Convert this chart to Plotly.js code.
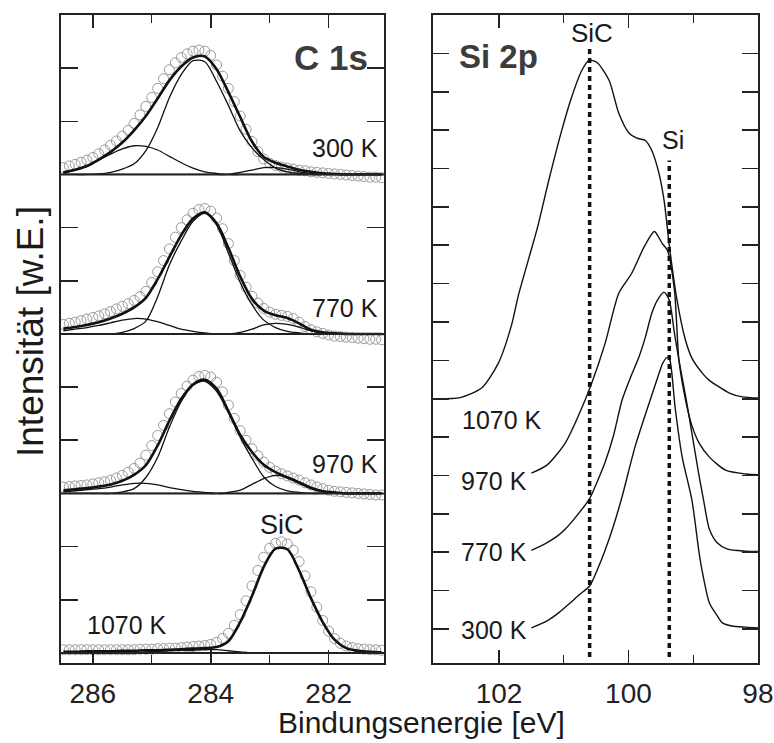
<!DOCTYPE html>
<html>
<head>
<meta charset="utf-8">
<script src="https://cdn.plot.ly/plotly-3.0.1.min.js"></script>
<style>html,body{margin:0;padding:0;background:#fff;}#chart{width:774px;height:743px;}</style>
</head>
<body>
<div id="chart"></div>
<script>
// ---------- C 1s (left panel) ----------
const c1sTemps = ["300 K", "770 K", "970 K", "1070 K"];
const c1sE = [286.5,286.4,286.3,286.2,286.1,286.0,285.9,285.8,285.7,285.6,285.5,285.4,285.3,285.2,285.1,285.0,284.9,284.8,284.7,284.6,284.5,284.4,284.3,284.2,284.1,284.0,283.9,283.8,283.7,283.6,283.5,283.4,283.3,283.2,283.1,283.0,282.9,282.8,282.7,282.6,282.5,282.4,282.3,282.2,282.1,282.0,281.9,281.8,281.7,281.6,281.5,281.4,281.3,281.2,281.1];
const c1sData300 = [0.13,0.16,0.19,0.23,0.27,0.32,0.39,0.46,0.55,0.63,0.72,0.83,0.96,1.12,1.28,1.45,1.62,1.80,1.97,2.10,2.20,2.27,2.32,2.34,2.32,2.24,2.06,1.85,1.62,1.37,1.10,0.85,0.62,0.43,0.29,0.21,0.17,0.14,0.12,0.10,0.08,0.07,0.05,0.04,0.03,0.02,0.01,0.0,-0.01,-0.02,-0.03,-0.04,-0.05,-0.05,-0.06];
const c1sData770 = [0.18,0.20,0.22,0.25,0.28,0.31,0.34,0.38,0.42,0.47,0.52,0.57,0.63,0.70,0.80,0.97,1.17,1.38,1.60,1.82,2.00,2.15,2.27,2.34,2.36,2.31,2.18,1.98,1.70,1.38,1.10,0.88,0.71,0.58,0.48,0.41,0.37,0.35,0.33,0.29,0.22,0.14,0.08,0.04,0.01,-0.02,-0.04,-0.05,-0.06,-0.07,-0.08,-0.09,-0.10,-0.10,-0.11];
const c1sData970 = [0.12,0.13,0.14,0.15,0.16,0.18,0.20,0.22,0.25,0.29,0.34,0.40,0.47,0.57,0.72,0.90,1.09,1.28,1.50,1.72,1.88,2.02,2.13,2.20,2.22,2.19,2.09,1.91,1.66,1.41,1.18,1.00,0.84,0.71,0.59,0.49,0.42,0.37,0.33,0.29,0.25,0.20,0.16,0.12,0.09,0.06,0.04,0.03,0.02,0.01,0.0,-0.01,-0.02,-0.03,-0.03];
const c1sData1070 = [0.06,0.06,0.06,0.06,0.06,0.06,0.06,0.06,0.06,0.06,0.06,0.06,0.06,0.07,0.07,0.07,0.08,0.08,0.09,0.09,0.10,0.11,0.12,0.13,0.14,0.16,0.20,0.27,0.37,0.52,0.72,0.98,1.26,1.55,1.80,1.97,2.06,2.09,2.05,1.93,1.72,1.45,1.15,0.86,0.61,0.41,0.27,0.18,0.13,0.10,0.08,0.07,0.06,0.06,0.05];

const fitE = [286.5,286.3,286.1,285.9,285.7,285.5,285.3,285.1,284.9,284.7,284.5,284.3,284.1,283.9,283.7,283.5,283.3,283.1,282.9,282.7,282.5,282.3,282.1,281.9,281.7,281.5,281.3,281.1];
const fit300 = [0.04,0.09,0.16,0.28,0.42,0.60,0.83,1.10,1.43,1.77,2.03,2.20,2.22,1.98,1.55,1.08,0.62,0.33,0.22,0.15,0.09,0.05,0.02,0.01,0,0,0,0];
const fit770 = [0.10,0.13,0.17,0.22,0.29,0.38,0.50,0.68,1.03,1.45,1.86,2.17,2.29,2.08,1.62,1.08,0.66,0.44,0.35,0.30,0.20,0.08,0.03,0.01,0,0,0,0];
const fit970 = [0.06,0.08,0.10,0.13,0.17,0.24,0.35,0.53,0.90,1.37,1.78,2.05,2.14,1.97,1.55,1.10,0.78,0.54,0.40,0.30,0.20,0.10,0.04,0.02,0,0,0,0];
const fit1070 = [0.02,0.02,0.03,0.03,0.03,0.04,0.04,0.05,0.05,0.06,0.07,0.08,0.09,0.11,0.22,0.58,1.07,1.62,1.96,1.95,1.55,1.03,0.58,0.25,0.09,0.04,0.02,0.01];

const main300 = [0,0,0,0.01,0.04,0.10,0.20,0.45,0.88,1.45,1.88,2.14,2.12,1.75,1.30,0.82,0.50,0.28,0.12,0.05,0.02,0,0,0,0,0,0,0];
const left300 = [0.02,0.08,0.15,0.27,0.38,0.48,0.54,0.53,0.46,0.34,0.22,0.12,0.05,0.02,0,0,0,0,0,0,0,0,0,0,0,0,0,0];
const right300 = [0,0,0,0,0,0,0,0,0,0,0,0,0,0,0,0.04,0.08,0.13,0.13,0.10,0.05,0.02,0,0,0,0,0,0];
const main770 = [0,0,0,0,0,0.03,0.10,0.24,0.70,1.30,1.75,2.12,2.27,2.05,1.52,0.97,0.55,0.26,0.12,0.05,0.02,0,0,0,0,0,0,0];
const left770 = [0.06,0.09,0.12,0.16,0.21,0.26,0.29,0.28,0.23,0.16,0.09,0.05,0.02,0,0,0,0,0,0,0,0,0,0,0,0,0,0,0];
const right770 = [0,0,0,0,0,0,0,0,0,0,0,0,0,0,0,0.03,0.09,0.17,0.20,0.18,0.13,0.06,0.02,0,0,0,0,0];
const main970 = [0,0,0,0,0,0.03,0.09,0.30,0.68,1.25,1.73,2.04,2.11,1.92,1.52,1.06,0.66,0.31,0.13,0.05,0.02,0,0,0,0,0,0,0];
const left970 = [0.03,0.05,0.07,0.09,0.12,0.16,0.19,0.19,0.16,0.11,0.07,0.04,0.02,0,0,0,0,0,0,0,0,0,0,0,0,0,0,0];
const right970 = [0,0,0,0,0,0,0,0,0,0,0,0,0,0,0.02,0.06,0.17,0.28,0.34,0.31,0.22,0.12,0.05,0.01,0,0,0,0];
const small1070 = [0,0,0,0,0,0,0,0.02,0.03,0.04,0.05,0.05,0.06,0.06,0.04,0.02,0,0,0,0,0,0,0,0,0,0,0,0];

const c1sOffsets = [9, 6, 3, 0];
const c1sDataSets = [c1sData300, c1sData770, c1sData970, c1sData1070];
const c1sFits = [fit300, fit770, fit970, fit1070];
const c1sComponents = [[main300, left300, right300], [main770, left770, right770], [main970, left970, right970], [small1070]];

// ---------- Si 2p (right panel) ----------
const siTemps = ["300 K", "770 K", "970 K", "1070 K"];
const si300E = [101.50,101.25,101.08,100.92,100.77,100.60,100.48,100.36,100.23,100.10,99.90,99.68,99.55,99.47,99.40,99.36,99.28,99.17,99.02,98.91,98.86,98.75,98.63,98.55,98.40,98.19,98.00];
const si300I = [0.03,0.22,0.42,0.65,0.88,1.12,1.55,2.06,2.70,3.44,4.74,5.89,6.55,6.93,7.08,7.00,5.78,4.48,3.36,2.00,1.50,0.68,0.35,0.16,0.08,0.05,0.03];
const si770E = [101.50,101.29,101.10,100.98,100.80,100.60,100.48,100.36,100.23,100.10,99.97,99.84,99.74,99.64,99.55,99.45,99.37,99.29,99.22,99.11,99.02,98.91,98.84,98.75,98.63,98.47,98.19,98.00];
const si770I = [0.05,0.22,0.42,0.60,0.95,1.40,1.85,2.35,3.05,3.96,4.55,5.08,5.60,6.23,6.58,6.78,6.57,5.71,5.00,4.00,3.10,2.00,1.36,0.60,0.25,0.08,0.03,0.02];
const si970E = [101.50,101.26,100.98,100.77,100.58,100.36,100.15,99.95,99.76,99.60,99.48,99.40,99.29,99.22,99.11,99.02,98.91,98.75,98.50,98.19,98.00];
const si970I = [0.06,0.27,0.84,1.57,2.35,3.45,4.75,5.27,5.95,6.36,6.05,5.87,4.83,3.00,1.90,1.30,0.85,0.48,0.14,0.04,0.02];
const si1070E = [103.00,102.60,102.27,102.01,101.81,101.70,101.55,101.40,101.23,101.03,100.88,100.72,100.61,100.49,100.30,100.15,99.99,99.87,99.74,99.64,99.53,99.45,99.36,99.25,99.12,99.02,98.85,98.75,98.44,98.24,98.00];
const si1070I = [0.00,0.03,0.28,0.93,1.90,2.70,3.60,4.50,5.70,7.00,7.85,8.56,8.82,8.77,8.30,7.44,6.92,6.79,6.73,6.47,5.88,5.17,3.87,2.57,1.53,1.06,0.65,0.48,0.15,0.05,0.02];
const siOffsets = [0, 2, 4, 6];
const siE = [si300E, si770E, si970E, si1070E];
const siI = [si300I, si770I, si970I, si1070I];

// reference energies (SiC and Si) marked by dotted lines
const refLabels = ["SiC", "Si"];
const refE = [100.6, 99.37];
const refTop = [15.13, 12.21];
const refBottom = -0.73;

// ---------- traces ----------
const traces = [];
const add = (arr, off) => arr.map(v => v + off);

c1sDataSets.forEach((d, i) => {
  traces.push({x: c1sE, y: add(d, c1sOffsets[i]), xaxis: 'x', yaxis: 'y', mode: 'markers', type: 'scatter',
    marker: {symbol: 'circle-open', size: 10, color: '#9a9a9a', line: {width: 1, color: '#9a9a9a'}}, hoverinfo: 'skip', showlegend: false});
});
c1sComponents.forEach((comps, i) => {
  comps.forEach(c => {
    traces.push({x: fitE, y: add(c, c1sOffsets[i]), xaxis: 'x', yaxis: 'y', mode: 'lines', type: 'scatter',
      line: {color: '#111', width: 1.3, shape: 'spline', smoothing: 0.8}, hoverinfo: 'skip', showlegend: false});
  });
});
c1sFits.forEach((f, i) => {
  traces.push({x: fitE, y: add(f, c1sOffsets[i]), xaxis: 'x', yaxis: 'y', mode: 'lines', type: 'scatter',
    line: {color: '#111', width: 2.6, shape: 'spline', smoothing: 0.8}, hoverinfo: 'skip', showlegend: false});
});

siE.forEach((e, i) => {
  traces.push({x: e, y: add(siI[i], siOffsets[i]), xaxis: 'x2', yaxis: 'y2', mode: 'lines', type: 'scatter',
    line: {color: '#111', width: 1.4, shape: 'spline', smoothing: 0.7}, hoverinfo: 'skip', showlegend: false});
});
refE.forEach((e, i) => {
  traces.push({x: [e, e], y: [refBottom, refTop[i]], xaxis: 'x2', yaxis: 'y2', mode: 'lines', type: 'scatter',
    line: {color: '#111', width: 3.5, dash: '5px,4px'}, hoverinfo: 'skip', showlegend: false});
});

// ---------- layout ----------
const W = 774, H = 743;
const px = v => v / W, py = v => 1 - v / H;
const FONT = 'Liberation Sans, Arial, sans-serif';
const axisCommon = {showline: true, linecolor: '#222', linewidth: 2, mirror: 'ticks', showgrid: false, zeroline: false,
  ticks: 'inside', tickcolor: '#222', tickwidth: 1.6};
const tickFont = {family: FONT, size: 28, color: '#222'};

const ann = [];
const txt = (text, x, y, size, extra) => ann.push(Object.assign({text: text, x: px(x), y: py(y), xref: 'paper', yref: 'paper',
  showarrow: false, xanchor: 'center', yanchor: 'middle',
  font: {family: FONT, size: size, color: '#1a1a1a'}}, extra || {}));

txt('<b>C 1s</b>', 331, 58, 35, {font: {family: FONT, size: 35, color: '#3c3c3c'}});
txt('<b>Si 2p</b>', 499, 56, 33, {font: {family: FONT, size: 33, color: '#3c3c3c'}});
const c1sLabelPos = [[345, 148], [345, 308], [345, 464], [127, 625]];
c1sTemps.forEach((t, i) => txt(t, c1sLabelPos[i][0], c1sLabelPos[i][1], 25));
txt('SiC', 282, 525, 27);
const siLabelPos = [[494, 630], [494, 552], [494, 481], [502, 420]];
siTemps.forEach((t, i) => txt(t, siLabelPos[i][0], siLabelPos[i][1], 25));
txt(refLabels[0], 592, 33, 26);
txt(refLabels[1], 673, 140, 25);
txt('Bindungsenergie [eV]', 421, 722, 30);
txt('Intensität [w.E.]', 31, 332, 37, {textangle: -90});

const shapes = c1sOffsets.map(o => ({type: 'line', xref: 'x domain', yref: 'y', x0: 0, x1: 1, y0: o, y1: o,
  line: {color: '#222', width: 2}}));

const layout = {
  width: W, height: H,
  margin: {l: 0, r: 0, t: 0, b: 0},
  paper_bgcolor: '#fff', plot_bgcolor: '#fff',
  showlegend: false,
  xaxis: Object.assign({}, axisCommon, {domain: [px(61), px(384)], range: [286.54, 281.06], anchor: 'y',
    tickvals: [286, 284, 282], ticktext: ['286', '284', '282'], ticklen: 13, tickfont: tickFont, ticklabelstandoff: 4,
    minor: {tickvals: [285, 283], ticks: 'inside', ticklen: 8, tickcolor: '#222', tickwidth: 1.4}}),
  yaxis: Object.assign({}, axisCommon, {domain: [py(663), py(15)], range: [-0.19, 12], anchor: 'x',
    tickvals: [1, 2, 4, 5, 7, 8, 10, 11], ticklen: 17, showticklabels: false}),
  xaxis2: Object.assign({}, axisCommon, {domain: [px(433), px(758)], range: [103.02, 97.999], anchor: 'y2',
    tickvals: [102, 100, 98], ticktext: ['102', '100', '98'], ticklen: 13, tickfont: tickFont, ticklabelstandoff: 4,
    minor: {tickvals: [101, 99], ticks: 'inside', ticklen: 8, tickcolor: '#222', tickwidth: 1.4}}),
  yaxis2: Object.assign({}, axisCommon, {domain: [py(663), py(15)], range: [-0.885, 16], anchor: 'x2',
    tickvals: [0,1,2,3,4,5,6,7,8,9,10,11,12,13,14,15], ticklen: 16, showticklabels: false}),
  annotations: ann,
  shapes: shapes
};

Plotly.newPlot('chart', traces, layout, {displayModeBar: false, staticPlot: true});
</script>
</body>
</html>
